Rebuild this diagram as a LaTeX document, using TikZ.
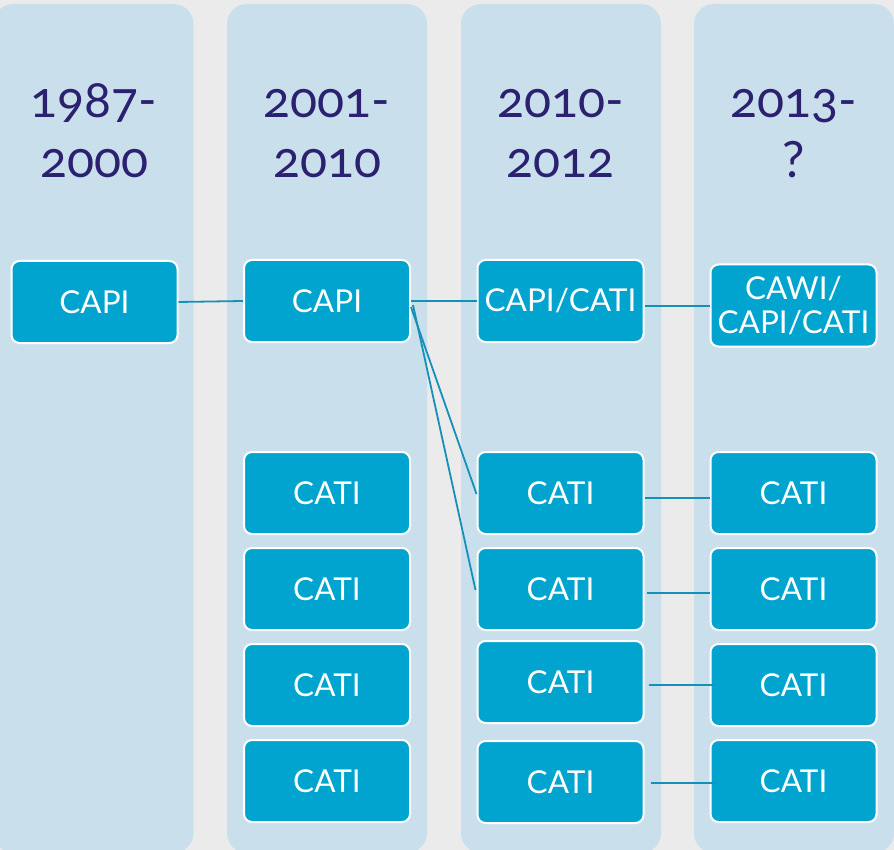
\documentclass[tikz,border=0pt]{standalone}
\usepackage{fontspec}
\newfontfamily\headfont[Numbers=OldStyle]{Lato}
\newfontfamily\boxfont{Lato}
\definecolor{bgc}{HTML}{EBEBEB}
\definecolor{colc}{HTML}{CADFEC}
\definecolor{boxc}{HTML}{00A4CF}
\definecolor{linec}{HTML}{1590B8}
\definecolor{headc}{HTML}{2B2170}
\tikzset{
  colband/.style={fill=colc, draw=none, rounded corners=20pt},
  periodbox/.style={fill=boxc, draw=white, line width=2pt, rounded corners=8pt,
    minimum width=166pt, minimum height=82pt, text=white, inner sep=0pt,
    font=\boxfont\fontsize{31.5}{35}\selectfont, align=center},
  headtxt/.style={text=headc, font=\headfont\fontsize{50}{60}\selectfont, inner sep=0pt, anchor=base},
  link/.style={draw=linec, line width=1.8pt}
}
\begin{document}
\begin{tikzpicture}[x=1pt,y=-1pt]
\useasboundingbox (0,0) rectangle (894,850);
\clip (0,0) rectangle (894,850);
\fill[bgc] (0,0) rectangle (894,850);
% columns
\foreach \xl in {-6.5,227,461,694}{
  \path[colband] (\xl,4) rectangle (\xl+200,853);
}
% headers
\node[headtxt] (h1a) at (94,118) {1987-};
\node[headtxt] (h1b) at (94,178) {2000};
\node[headtxt] (h2a) at (327,118) {2001-};
\node[headtxt] (h2b) at (327,178) {2010};
\node[headtxt] (h3a) at (560.5,118) {2010-};
\node[headtxt] (h3b) at (560.5,178) {2012};
\node[headtxt] (h4a) at (793.5,118) {2013-};
\node[headtxt] (h4b) at (793.5,178) {?};
% boxes
\node[periodbox] (a0) at (94.5,302) {CAPI};
\node[periodbox] (b0) at (327,301) {CAPI};
\node[periodbox] (b1) at (327,493) {CATI};
\node[periodbox] (b2) at (327,589) {CATI};
\node[periodbox] (b3) at (327,685) {CATI};
\node[periodbox] (b4) at (327,781) {CATI};
\node[periodbox] (c0) at (560.5,301) {CAPI/CATI};
\node[periodbox] (c1) at (560.5,493) {CATI};
\node[periodbox] (c2) at (560.5,589) {CATI};
\node[periodbox] (c3) at (560.5,682) {CATI};
\node[periodbox] (c4) at (560.5,782) {CATI};
\node[periodbox, font=\boxfont\fontsize{31.5}{34}\selectfont] (d0) at (793.5,305.5) {CAWI/\\CAPI/CATI};
\node[periodbox] (d1) at (793.5,493) {CATI};
\node[periodbox] (d2) at (793.5,589) {CATI};
\node[periodbox] (d3) at (793.5,685) {CATI};
\node[periodbox] (d4) at (793.5,781) {CATI};
% connectors
\draw[link] (a0.east) -- (b0.west);
\draw[link] (b0.east) -- (c0.west);
\draw[link] ([yshift=-6pt]b0.east) -- ([yshift=-1pt]c1.west);
\draw[link] ([xshift=2pt,yshift=-4pt]b0.east) -- ([xshift=-1pt,yshift=-1pt]c2.west);
\draw[link] ([yshift=-5pt]c0.east) -- ([yshift=-0.5pt]d0.west);
\draw[link] ([yshift=-5pt]c1.east) -- ([yshift=-5pt]d1.west);
\draw[link] ([xshift=2pt,yshift=-4pt]c2.east) -- ([yshift=-4pt]d2.west);
\draw[link] ([xshift=4pt,yshift=-3pt]c3.east) -- ([xshift=4pt]d3.west);
\draw[link] ([xshift=6pt,yshift=-1pt]c4.east) -- ([xshift=6pt,yshift=-2pt]d4.west);
\end{tikzpicture}
\end{document}
